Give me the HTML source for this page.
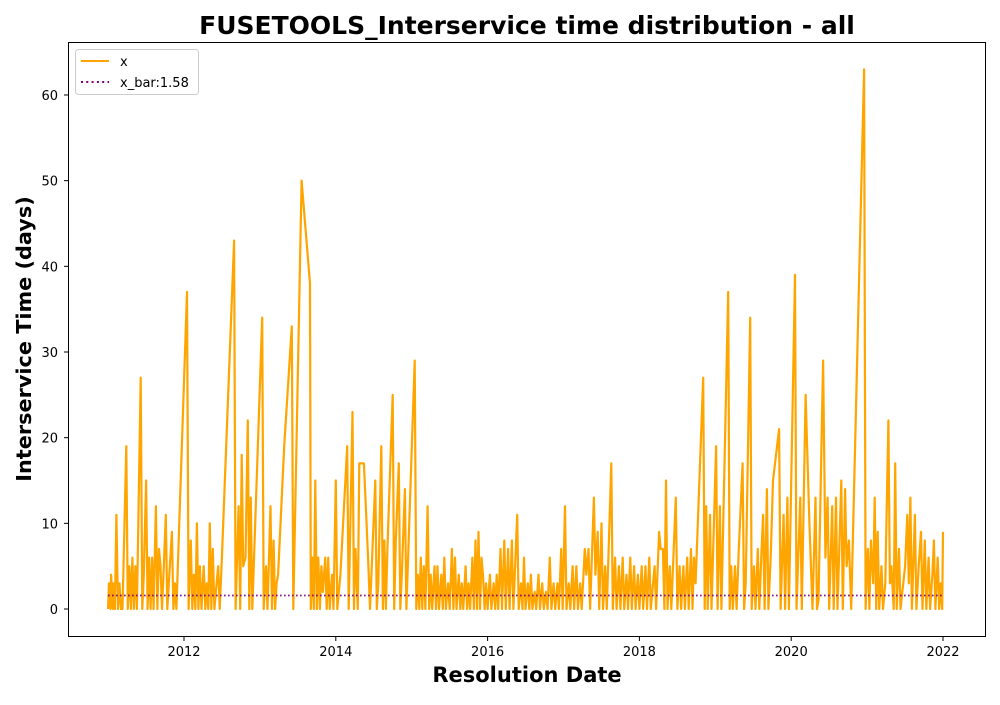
<!DOCTYPE html>
<html><head><meta charset="utf-8"><style>
body{margin:0;background:#fff;}
svg text{font-family:"DejaVu Sans","Liberation Sans",sans-serif;}
</style></head><body>
<svg id="chart" width="1000" height="700" viewBox="0 0 1000 700">
<rect x="0" y="0" width="1000" height="700" fill="#fff"/>
<text x="527" y="34" text-anchor="middle" font-size="25" font-weight="bold">FUSETOOLS_Interservice time distribution - all</text>
<text transform="translate(31,339) rotate(-90)" text-anchor="middle" font-size="20.8" font-weight="bold">Interservice Time (days)</text>
<text x="527" y="682" text-anchor="middle" font-size="21" font-weight="bold">Resolution Date</text>
<g id="plot"></g>
<rect x="68.5" y="42.5" width="917" height="594" fill="none" stroke="#000" stroke-width="1"/>
<g>
<rect x="75.5" y="49.5" width="123" height="45" rx="3" fill="#fff" fill-opacity="0.8" stroke="#ccc"/>
<line x1="81" y1="61" x2="109" y2="61" stroke="orange" stroke-width="2"/>
<text x="120" y="66" font-size="13">x</text>
<line x1="81" y1="82" x2="109" y2="82" stroke="purple" stroke-width="2" stroke-dasharray="2,3.3"/>
<text x="120" y="87" font-size="13">x_bar:1.58</text>
</g>
</svg>
<script>
const xTicks=[2012,2014,2016,2018,2020,2022];
const yTicks=[0,10,20,30,40,50,60];
const meanValue=1.58;
const meanRange=[2011.0,2022.0];
const observations=[
[2011.00,0],[2011.01,3],[2011.03,0],[2011.04,4],[2011.06,0],[2011.07,3],[2011.09,0],[2011.11,11],[2011.13,0],[2011.15,3],[2011.17,0],[2011.19,0],[2011.24,19],[2011.26,0],[2011.28,5],[2011.30,0],[2011.32,6],[2011.34,0],[2011.36,5],[2011.38,0],[2011.43,27],[2011.45,0],[2011.47,4],[2011.50,15],[2011.52,0],[2011.54,6],[2011.56,0],[2011.58,6],[2011.60,0],[2011.63,12],[2011.65,0],[2011.67,7],[2011.69,5],[2011.71,0],[2011.73,4],[2011.76,11],[2011.78,0],[2011.80,3],[2011.84,9],[2011.86,0],[2011.88,3],[2011.90,0],
[2012.04,37],[2012.06,0],[2012.09,8],[2012.11,0],[2012.13,4],[2012.15,0],[2012.17,10],[2012.19,0],[2012.21,5],[2012.23,0],[2012.26,5],[2012.28,0],[2012.30,3],[2012.32,0],[2012.34,10],[2012.36,0],[2012.38,7],[2012.40,0],[2012.43,3],[2012.45,5],[2012.47,0],[2012.50,6],[2012.66,43],[2012.68,0],[2012.72,12],[2012.74,0],[2012.76,18],[2012.78,5],[2012.81,6],[2012.84,22],[2012.86,0],[2012.88,13],[2012.90,0],
[2013.03,34],[2013.05,0],[2013.08,5],[2013.10,0],[2013.14,12],[2013.16,0],[2013.18,8],[2013.20,0],[2013.22,3],[2013.24,4],[2013.32,19],[2013.42,33],[2013.44,0],[2013.55,50],[2013.66,38],[2013.67,0],[2013.69,6],[2013.71,0],[2013.73,15],[2013.75,0],[2013.77,6],[2013.79,0],[2013.81,5],[2013.83,2],[2013.86,6],[2013.88,0],[2013.90,6],[2013.92,0],[2013.95,4],[2013.97,0],
[2014.00,15],[2014.02,0],[2014.06,4],[2014.15,19],[2014.17,0],[2014.22,23],[2014.24,0],[2014.26,7],[2014.29,0],[2014.31,17],[2014.37,17],[2014.40,11],[2014.43,5],[2014.45,0],[2014.52,15],[2014.54,0],[2014.56,3],[2014.60,19],[2014.62,0],[2014.64,8],[2014.66,0],[2014.68,7],[2014.75,25],[2014.77,0],[2014.79,8],[2014.83,17],[2014.85,0],[2014.87,4],[2014.91,14],[2014.93,0],
[2015.04,29],[2015.06,0],[2015.08,4],[2015.10,0],[2015.12,6],[2015.14,0],[2015.16,5],[2015.18,0],[2015.21,12],[2015.23,0],[2015.25,4],[2015.27,0],[2015.30,5],[2015.32,0],[2015.34,5],[2015.36,0],[2015.39,4],[2015.41,0],[2015.43,6],[2015.45,0],[2015.48,3],[2015.50,0],[2015.53,7],[2015.55,0],[2015.57,6],[2015.59,0],[2015.62,4],[2015.64,0],[2015.66,3],[2015.68,0],[2015.71,5],[2015.73,0],[2015.75,3],[2015.77,0],[2015.80,6],[2015.82,0],[2015.84,8],[2015.86,0],[2015.88,9],[2015.90,0],[2015.92,6],[2015.94,4],[2015.96,0],[2015.98,3],
[2016.00,0],[2016.03,4],[2016.05,0],[2016.08,3],[2016.10,0],[2016.12,4],[2016.14,0],[2016.17,7],[2016.19,0],[2016.22,8],[2016.24,0],[2016.27,7],[2016.29,0],[2016.32,8],[2016.34,0],[2016.39,11],[2016.41,0],[2016.44,3],[2016.46,0],[2016.48,6],[2016.50,0],[2016.53,3],[2016.55,0],[2016.57,4],[2016.59,0],[2016.62,2],[2016.64,0],[2016.67,4],[2016.69,0],[2016.72,3],[2016.74,0],[2016.77,2],[2016.79,0],[2016.82,6],[2016.84,0],[2016.87,3],[2016.89,0],[2016.92,3],[2016.94,0],[2016.97,7],[2016.99,0],
[2017.02,12],[2017.04,0],[2017.07,3],[2017.09,0],[2017.12,5],[2017.14,0],[2017.17,5],[2017.19,0],[2017.22,3],[2017.24,0],[2017.28,7],[2017.30,4],[2017.33,7],[2017.35,0],[2017.40,13],[2017.42,4],[2017.45,9],[2017.47,0],[2017.50,10],[2017.52,0],[2017.55,5],[2017.57,0],[2017.63,17],[2017.65,0],[2017.68,6],[2017.70,0],[2017.73,5],[2017.75,0],[2017.78,6],[2017.80,0],[2017.83,4],[2017.85,0],[2017.88,6],[2017.90,0],[2017.93,5],[2017.95,0],[2017.98,4],
[2018.00,0],[2018.03,5],[2018.05,0],[2018.08,5],[2018.10,0],[2018.13,6],[2018.15,0],[2018.20,5],[2018.22,0],[2018.26,9],[2018.28,7],[2018.31,7],[2018.33,0],[2018.35,15],[2018.37,0],[2018.40,5],[2018.42,0],[2018.48,13],[2018.50,0],[2018.53,5],[2018.55,0],[2018.58,5],[2018.60,0],[2018.63,6],[2018.65,0],[2018.68,7],[2018.70,0],[2018.72,6],[2018.74,3],[2018.84,27],[2018.86,0],[2018.88,12],[2018.90,0],[2018.93,11],[2018.95,0],
[2019.01,19],[2019.03,0],[2019.06,12],[2019.08,0],[2019.17,37],[2019.19,0],[2019.21,5],[2019.23,0],[2019.26,5],[2019.28,0],[2019.31,7],[2019.36,17],[2019.38,0],[2019.40,3],[2019.46,34],[2019.48,0],[2019.51,5],[2019.53,0],[2019.56,7],[2019.58,0],[2019.61,7],[2019.63,11],[2019.65,0],[2019.68,14],[2019.70,0],[2019.73,6],[2019.76,15],[2019.84,21],[2019.86,0],[2019.90,11],[2019.92,0],[2019.95,13],[2019.97,0],
[2020.05,39],[2020.07,0],[2020.12,13],[2020.14,0],[2020.19,25],[2020.24,10],[2020.28,0],[2020.32,13],[2020.34,0],[2020.36,1],[2020.42,29],[2020.45,6],[2020.48,13],[2020.50,0],[2020.54,12],[2020.56,0],[2020.59,13],[2020.61,0],[2020.66,15],[2020.68,0],[2020.71,14],[2020.73,5],[2020.76,8],[2020.79,0],[2020.96,63],[2020.98,0],
[2021.01,7],[2021.03,0],[2021.05,8],[2021.08,3],[2021.10,13],[2021.12,0],[2021.14,9],[2021.16,0],[2021.19,5],[2021.21,0],[2021.24,3],[2021.28,22],[2021.30,3],[2021.32,5],[2021.35,0],[2021.37,17],[2021.39,0],[2021.42,7],[2021.44,0],[2021.50,5],[2021.53,11],[2021.55,3],[2021.57,13],[2021.59,0],[2021.63,11],[2021.65,0],[2021.68,5],[2021.71,9],[2021.73,0],[2021.76,8],[2021.78,0],[2021.81,6],[2021.83,0],[2021.86,4],[2021.88,8],[2021.90,0],[2021.93,6],[2021.95,0],[2021.97,3],[2021.99,0],[2022.00,9]
];
const NS='http://www.w3.org/2000/svg';
const X0=184,XPY=75.9,Y0=609,YPU=8.567;
function xs(d){return X0+(d-2012)*XPY;}
function ys(v){return Y0-v*YPU;}
const plot=document.getElementById('plot');
function mk(tag,attrs){const e=document.createElementNS(NS,tag);for(const k in attrs)e.setAttribute(k,attrs[k]);plot.appendChild(e);return e;}
xTicks.forEach(t=>{
  const l=mk('line',{x1:xs(t),x2:xs(t),y1:636.5,y2:641,stroke:'#000'});
  
  
  const tx=mk('text',{x:xs(t),y:656,'text-anchor':'middle','font-size':13});
  tx.textContent=t;
  
  
});
yTicks.forEach(t=>{
  const l=mk('line',{x1:64,x2:68.5,y1:ys(t),y2:ys(t),stroke:'#000'});
  
  
  const tx=mk('text',{x:58,y:ys(t)+5,'text-anchor':'end','font-size':13});
  tx.textContent=t;
  
  
});
const pts=observations.map(o=>xs(o[0]).toFixed(1)+','+ys(o[1]).toFixed(1)).join(' ');
const line=mk('polyline',{points:pts,fill:'none',stroke:'orange','stroke-width':2.2,'stroke-linejoin':'round'});


const mean=mk('line',{x1:xs(meanRange[0]),x2:xs(meanRange[1]),y1:ys(meanValue),y2:ys(meanValue),stroke:'purple','stroke-width':1.8,'stroke-dasharray':'1.5,2.5'});


</script>
</body></html>
